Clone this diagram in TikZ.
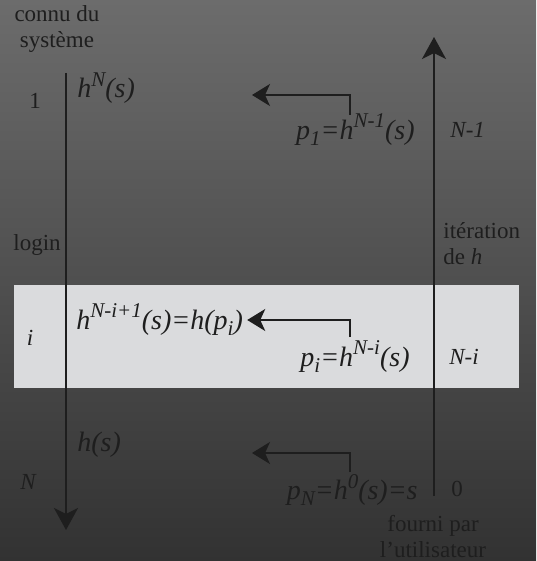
\documentclass[tikz,border=0pt]{standalone}
\usepackage{fontspec}
\setmainfont{Liberation Serif}
\usetikzlibrary{arrows.meta, positioning}
\definecolor{metaltop}{RGB}{108,108,108}
\definecolor{metalbot}{RGB}{50,50,50}
\definecolor{band}{RGB}{218,219,221}
\definecolor{ink}{RGB}{30,30,30}
\newcommand{\hsup}[1]{\raisebox{0.42em}{\fontsize{10.5}{10.5}\selectfont #1}}
\newcommand{\hsub}[1]{\raisebox{-0.22em}{\fontsize{10.5}{10.5}\selectfont #1}}

\begin{document}
\begin{tikzpicture}[x=0.5pt, y=-0.5pt,
	every node/.style={text=ink, font=\fontsize{11.5}{13}\selectfont, inner sep=0pt},
	lbl/.style={align=center},
	formula/.style={font=\fontsize{14}{16}\selectfont\itshape},
	axis/.style={ink, line width=1pt, -{Stealth[length=11pt,width=12pt,inset=3pt]}},
	back/.style={ink, line width=1pt, -{Stealth[length=9pt,width=11pt,inset=2.5pt]}}]
		% fond metal et bande de l'etape i
		\shade[top color=metaltop, bottom color=metalbot] (0,0) rectangle (536,561);
		\useasboundingbox (0,0) rectangle (536,561);
		\fill[band] (14,285) rectangle (519,388);
		% colonne gauche : connu du systeme
		\node[lbl] (known) at (57,29) {connu du\\système};
		\node (one) at (35,101) {1};
		\node (login) at (37,245) {login};
		\node[font=\fontsize{11.5}{13}\selectfont\itshape] (idx) at (30,338) {i};
		\node[font=\fontsize{11.5}{13}\selectfont\itshape] (N) at (28,482) {N};
		\node[formula, anchor=west] (hN) at (77,88) {h\hsup{N}(s)};
		\node[formula, anchor=west] (hNi1) at (76,320) {h\hsup{N-i+1}(s)=h(p\hsub{i})};
		\node[formula, anchor=west] (hs) at (77,445) {h(s)};
		% colonne droite : fourni par l'utilisateur
		\node[formula, anchor=east] (p1) at (415,130) {p\hsub{1}=h\hsup{N-1}(s)};
		\node[formula, anchor=east] (pi) at (410,357) {p\hsub{i}=h\hsup{N-i}(s)};
		\node[formula, anchor=east] (pN) at (418,490) {p\hsub{N}=h\hsup{0}(s)=s};
		\node[font=\fontsize{11.5}{13}\selectfont\itshape, anchor=west] (N1) at (450,130) {N-1};
		\node[font=\fontsize{11.5}{13}\selectfont\itshape, anchor=west] (Ni) at (449,357) {N-i};
		\node (zero) at (457,489) {0};
		\node[align=left, anchor=west] (iter) at (443,244) {itération\\de \textit{h}};
		\node[lbl] (user) at (433,537) {fourni par\\l'utilisateur};
		% axes
		\coordinate (systop) at (66,73); \coordinate (sysbot) at (66,530);
		\coordinate (usrbot) at (434,496); \coordinate (usrtop) at (434,37);
		\draw[axis] (systop) -- (sysbot);
		\draw[axis] (usrbot) -- (usrtop);
		% envois des mots de passe
		\coordinate (p1src) at (350,115); \coordinate (p1dst) at (252,95);
		\coordinate (pisrc) at (350,337);
		\coordinate (pNsrc) at (350,472); \coordinate (pNdst) at (252,453);
		\draw[back] (p1src) |- (p1dst);
		\draw[back] (pisrc) |- ([xshift=2]hNi1.east);
		\draw[back] (pNsrc) |- (pNdst);
	\end{tikzpicture}
\end{document}
